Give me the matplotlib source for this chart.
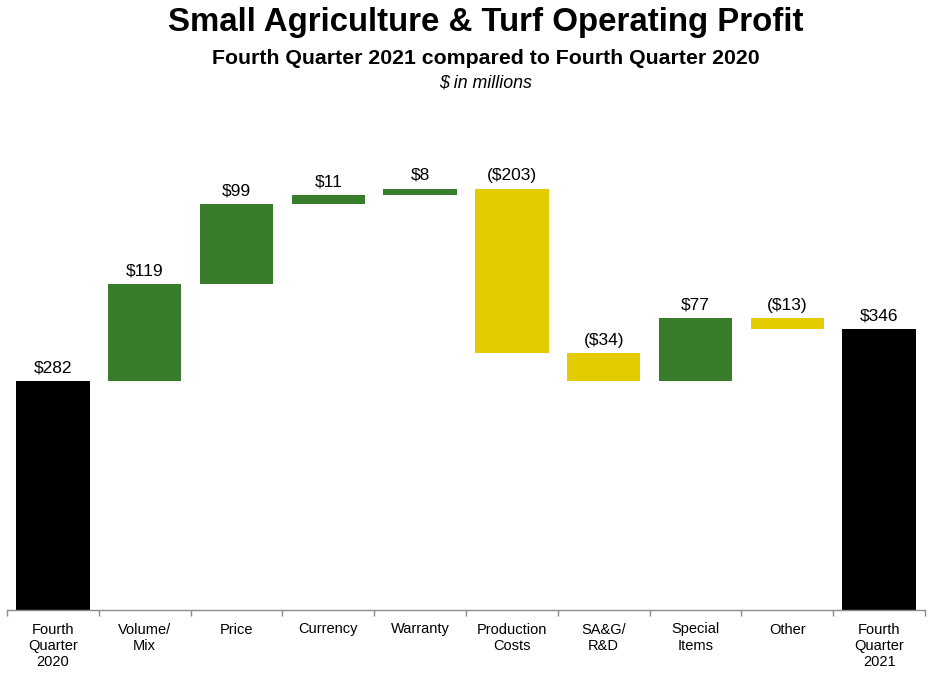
import matplotlib
matplotlib.use("Agg")
import matplotlib.pyplot as plt
import numpy as np

plt.rcParams['font.family'] = ['Liberation Sans', 'DejaVu Sans']

categories = ["Fourth\nQuarter\n2020", "Volume/\nMix", "Price", "Currency", "Warranty",
              "Production\nCosts", "SA&G/\nR&D", "Special\nItems", "Other", "Fourth\nQuarter\n2021"]
start_value = 282
changes = [119, 99, 11, 8, -203, -34, 77, -13]
end_value = 346
labels = ["$282", "$119", "$99", "$11", "$8", "($203)", "($34)", "$77", "($13)", "$346"]

GREEN = '#377D2C'
YELLOW = '#E3CD00'
BLACK = '#000000'

fig = plt.figure(figsize=(9.34, 6.77), dpi=100)
ax = fig.add_axes([7/934, 1-610/677, (925-7)/934, (610-139)/677])

bottoms, heights, colors = [], [], []
bottoms.append(0); heights.append(start_value); colors.append(BLACK)
run = start_value
for c in changes:
    if c >= 0:
        bottoms.append(run); heights.append(c); colors.append(GREEN)
    else:
        bottoms.append(run + c); heights.append(-c); colors.append(YELLOW)
    run += c
bottoms.append(0); heights.append(end_value); colors.append(BLACK)

x = np.arange(len(categories))
ax.bar(x, heights, bottom=bottoms, width=0.8, color=colors, edgecolor='none')

for xi, b, h, lab in zip(x, bottoms, heights, labels):
    ax.annotate(lab, (xi, b + h), xytext=(0, 4), textcoords='offset points',
                ha='center', va='bottom', fontsize=12.5, color='black')

ax.set_xlim(-0.5, len(categories) - 0.5)
ax.set_ylim(0, 580)
ax.set_yticks([])
for s in ['top', 'right', 'left']:
    ax.spines[s].set_visible(False)
ax.spines['bottom'].set_color('#8c8c8c')
ax.spines['bottom'].set_linewidth(1.0)

ax.set_xticks(np.arange(-0.5, len(categories), 1.0))
ax.set_xticklabels([])
ax.tick_params(axis='x', direction='out', length=4, color='#8c8c8c', width=1)
ax.set_xticks(x, minor=True)
ax.set_xticklabels(categories, minor=True, fontsize=10.5, linespacing=1.22)
ax.tick_params(axis='x', which='minor', length=0, pad=9)

cx = 486 / 934
fig.text(cx, 1-22/677, "Small Agriculture & Turf Operating Profit", ha='center', va='center',
         fontsize=23.8, fontweight='bold')
fig.text(cx, 1-58/677, "Fourth Quarter 2021 compared to Fourth Quarter 2020", ha='center', va='center',
         fontsize=15.3, fontweight='bold')
fig.text(cx, 1-83/677, "$ in millions", ha='center', va='center',
         fontsize=12.8, fontstyle='italic')

fig.savefig("out.png", dpi=100)
